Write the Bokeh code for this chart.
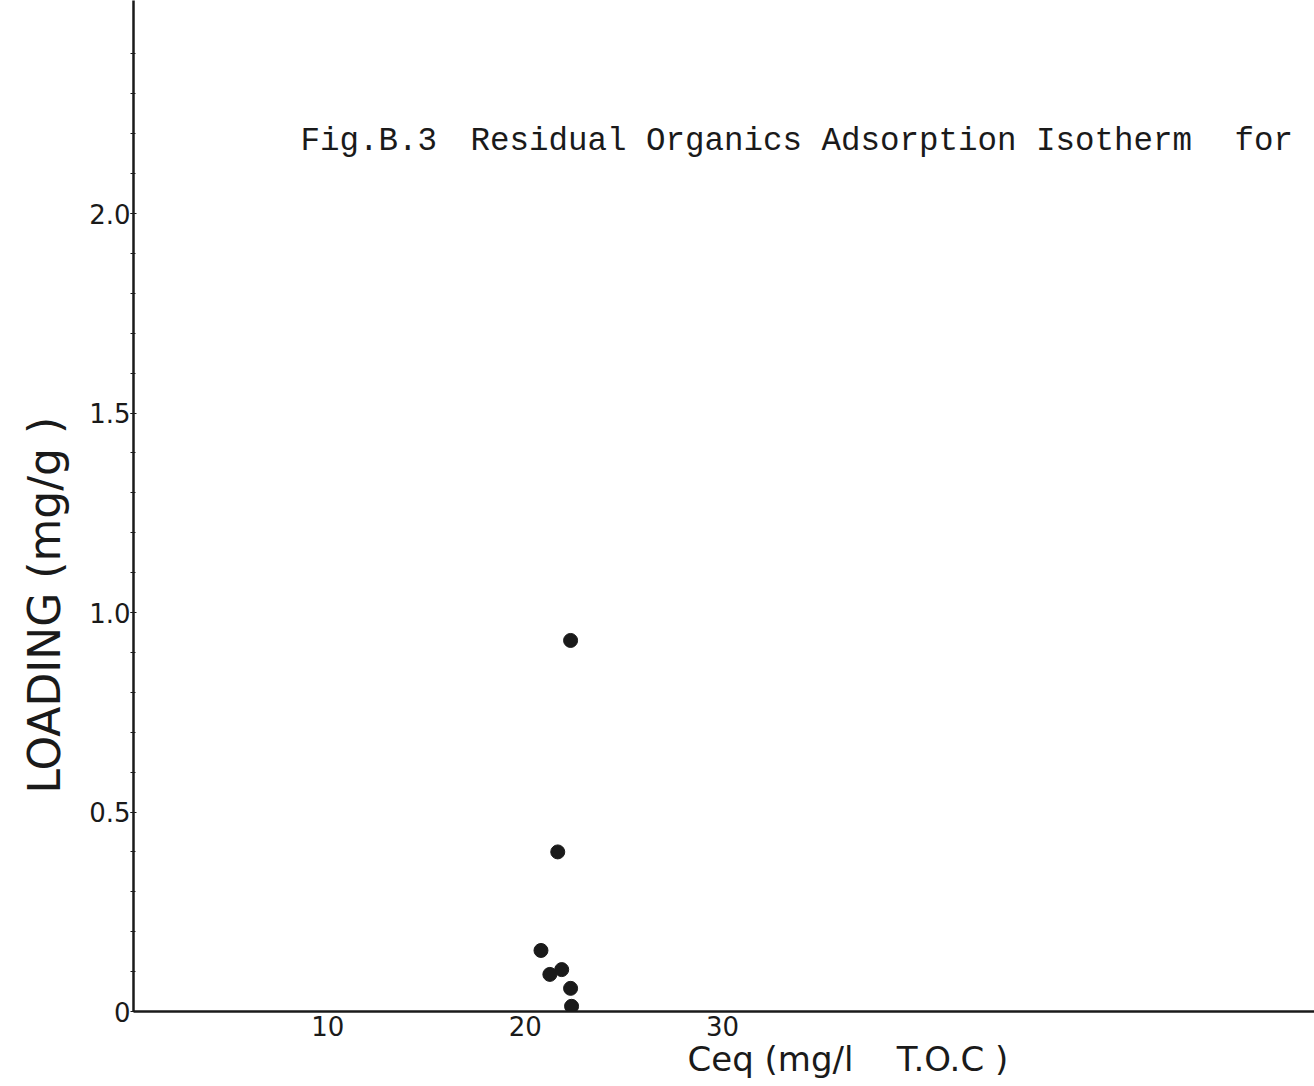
import math
from bokeh.plotting import figure
from bokeh.models import Range1d, FixedTicker, Label, Title
from bokeh.embed import file_html
from bokeh.resources import INLINE

# Data
ceq = [22.3, 21.65, 20.8, 21.25, 21.85, 22.3, 22.35]          # mg/l T.O.C
loading = [0.93, 0.40, 0.153, 0.093, 0.105, 0.058, 0.013]     # mg/g

x_ticks = [10, 20, 30]
y_ticks = [0.0, 0.5, 1.0, 1.5, 2.0]
y_tick_labels = {0.0: "0", 0.5: "0.5", 1.0: "1.0", 1.5: "1.5", 2.0: "2.0"}

title_parts = ["Fig.B.3", "Residual Organics Adsorption Isotherm", "for"]
x_label_text = "Ceq (mg/l\u00a0\u00a0\u00a0 T.O.C )"
y_label_text = "LOADING (mg/g )"

INK = "#1a1a1a"
LETTER = "DejaVu Sans"

p = figure(width=1314, height=1086, output_backend="svg", toolbar_location=None,
           x_range=Range1d(0.15, 60.0), y_range=Range1d(0.0, 2.534),
           min_border_left=133, min_border_right=0, min_border_top=0, min_border_bottom=75)
p.outline_line_color = None
p.xgrid.visible = False
p.ygrid.visible = False
p.background_fill_color = "white"
p.border_fill_color = "white"

p.scatter(ceq, loading, size=14, color=INK, marker="circle")

# Axes
p.xaxis.ticker = FixedTicker(ticks=x_ticks)
p.yaxis.ticker = FixedTicker(ticks=y_ticks, minor_ticks=[round(0.1 * i, 1) for i in range(1, 25)])
p.yaxis.major_label_overrides = y_tick_labels
for ax in (p.xaxis[0], p.yaxis[0]):
    ax.axis_line_color = INK
    ax.axis_line_width = 2.5
    ax.major_tick_line_color = INK
    ax.minor_tick_line_color = INK
    ax.major_label_text_font = LETTER
    ax.major_label_text_font_size = "26px"
    ax.major_label_text_color = INK
p.xaxis.major_tick_in = 0
p.xaxis.major_tick_out = 0
p.xaxis.minor_tick_line_color = None
p.xaxis.major_label_standoff = 4
p.yaxis.major_tick_in = 3
p.yaxis.major_tick_out = 3
p.yaxis.minor_tick_in = 2
p.yaxis.minor_tick_out = 3
p.yaxis.major_label_standoff = 0

# Figure caption inside the plot area (typewriter)
for txt, sx in zip(title_parts, [167, 337, 1101]):
    p.add_layout(Label(x=sx, y=870, x_units="screen", y_units="screen", text=txt,
                       text_font="Liberation Mono", text_font_size="32.5px", text_color=INK,
                       text_baseline="alphabetic", text_align="left"))

# Axis titles
p.add_layout(Title(text=x_label_text, align="left", offset=554, standoff=-4,
                   text_font=LETTER, text_font_size="34px", text_font_style="normal",
                   text_color=INK), "below")
p.add_layout(Title(text=y_label_text, align="left", offset=218, standoff=33,
                   text_font=LETTER, text_font_size="44px", text_font_style="normal",
                   text_color=INK), "left")

open("out.html", "w").write(file_html(p, INLINE))
